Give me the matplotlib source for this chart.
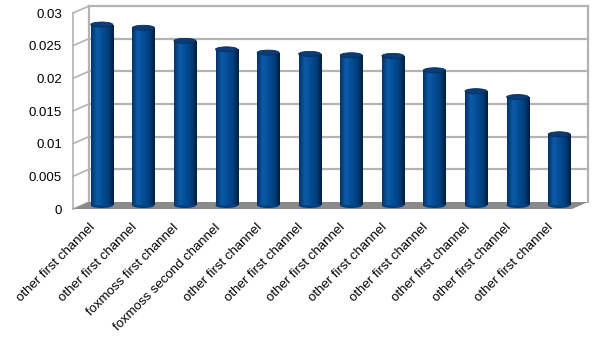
import matplotlib.pyplot as plt
import matplotlib.transforms as mtransforms
from matplotlib.colors import LinearSegmentedColormap
from matplotlib.patches import Ellipse, Polygon
import numpy as np

plt.rcParams['font.family'] = ['Liberation Sans', 'DejaVu Sans']

# data
labels = ["other first channel", "other first channel", "foxmoss first channel",
          "foxmoss second channel", "other first channel", "other first channel",
          "other first channel", "other first channel", "other first channel",
          "other first channel", "other first channel", "other first channel"]
values = [0.0277, 0.0272, 0.0252, 0.0239, 0.0234, 0.0232,
          0.0230, 0.0229, 0.0207, 0.0175, 0.0166, 0.0109]
yticks = [0, 0.005, 0.01, 0.015, 0.02, 0.025, 0.03]
ytick_labels = ["0", "0.005", "0.01", "0.015", "0.02", "0.025", "0.03"]

W, H = 605, 341
fig = plt.figure(figsize=(W / 100, H / 100), dpi=100)
# front plane of the pseudo-3D box (pixels)
left, right, bottom, top = 73, 572, 209, 13
ax = fig.add_axes([left / W, (H - bottom) / H, (right - left) / W, (bottom - top) / H])
ax.set_xlim(-0.5, len(values) - 0.5)
ax.set_ylim(0, 0.03)
ax.set_autoscale_on(False)
for s in ax.spines.values():
    s.set_visible(False)

def shift(dx, dy):
    return ax.transData + mtransforms.ScaledTranslation(dx / 100, dy / 100, fig.dpi_scale_trans)

back = shift(16, 7)
mid = shift(8, 3.5)
grid_c = '#b3b3b3'
x0, x1 = -0.5, len(values) - 0.5

# floor
floor_pts = [ax.transData.transform(p) for p in [(x0, 0), (x1, 0)]]
floor_pts += [back.transform(p) for p in [(x1, 0), (x0, 0)]]
inv = ax.transData.inverted()
ax.add_patch(Polygon([inv.transform(p) for p in floor_pts], closed=True,
                     facecolor='#8a8a8a', edgecolor='none', zorder=1, clip_on=False))

# back wall grid + edges, left side wall
for t in yticks[1:]:
    ax.plot([x0, x1], [t, t], color=grid_c, lw=1.6, transform=back, zorder=0.5, clip_on=False)
for xx in (x0, x1):
    ax.plot([xx, xx], [0, 0.03], color=grid_c, lw=1.6, transform=back, zorder=0.5, clip_on=False)
ax.plot([x0, x0], [0, 0.03], color=grid_c, lw=1.2, zorder=0.5, clip_on=False)
for t in yticks:
    p0 = ax.transData.transform((x0, t))
    p1 = back.transform((x0, t))
    ax.plot(*zip(inv.transform(p0), inv.transform(p1)), color=grid_c, lw=1.2,
            zorder=0.5, clip_on=False)

# cylinder bars
x = np.arange(len(values))
bw = 0.53
cmap = LinearSegmentedColormap.from_list('cyl', [
    (0.0, '#003468'), (0.25, '#0d5aa6'), (0.45, '#06509a'),
    (0.75, '#003f7d'), (1.0, '#001f40')])
grad = np.linspace(0, 1, 64).reshape(1, -1)
ell_h = 5 / 196 * 0.03
bars = ax.bar(x, values, width=bw, color='#004586', transform=mid, zorder=3, clip_on=False)
for xi, v, b in zip(x, values, bars):
    ax.add_patch(Ellipse((xi, 0), bw, ell_h, facecolor='#003d7a',
                         edgecolor='none', transform=mid, zorder=2.9, clip_on=False))
    im = ax.imshow(grad, cmap=cmap, aspect='auto', extent=(xi - bw / 2, xi + bw / 2, 0, v),
                   transform=mid, zorder=3.1, interpolation='bilinear')
    im.set_clip_path(b)
    ax.add_patch(Ellipse((xi, v), bw, ell_h, facecolor='#0a3d78',
                         edgecolor='#062c58', lw=0.6, transform=mid, zorder=3.2, clip_on=False))

ax.set_xlim(x0, x1)
ax.set_ylim(0, 0.03)

ax.set_yticks(yticks)
ax.set_yticklabels(ytick_labels, fontsize=9.5)
ax.set_xticks(x)
ax.set_xticklabels(labels, fontsize=9.5, rotation=45, ha='right', va='center',
                   rotation_mode='anchor')
ax.tick_params(axis='y', length=0, pad=8)
ax.tick_params(axis='x', length=0, pad=12)

fig.savefig('out.png', dpi=100)
